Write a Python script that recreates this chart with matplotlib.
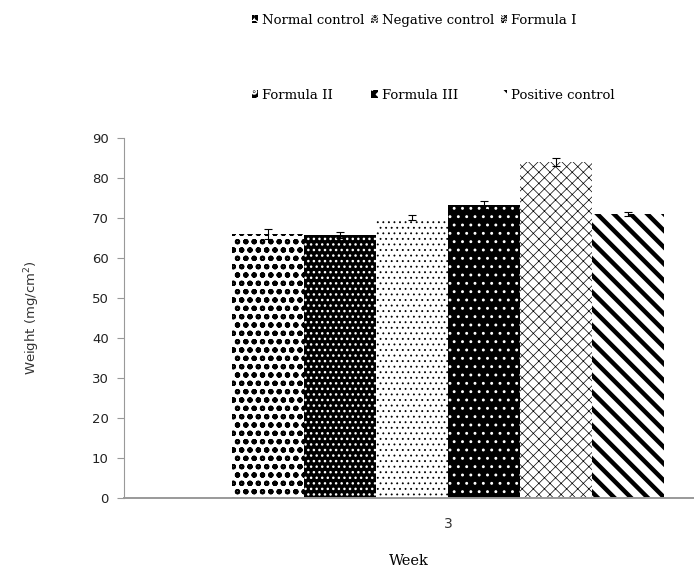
import numpy as np
import matplotlib
matplotlib.use("Agg")
import matplotlib.pyplot as plt

# data
groups = ["Normal control", "Negative control", "Formula I",
          "Formula II", "Formula III", "Positive control"]
weights = [66.0, 65.8, 70.1, 73.2, 84.1, 71.0]
errors = [1.2, 0.8, 0.6, 1.0, 1.0, 0.5]
week_label = "3"
yticks = [0, 10, 20, 30, 40, 50, 60, 70, 80, 90]

# look of each bar: face colour, hatch colour, hatch, hatch width
faces = ["white", "black", "white", "black", "white", "white"]
hatchcols = ["black", "white", "black", "white", "black", "black"]
hatches = ["oo", "...", "...", "..", "xxx", "\\\\"]
hatch_lw = [1.5, 1.0, 0.6, 0.9, 0.5, 3.2]

fig = plt.figure(figsize=(6.94, 5.76), dpi=100)
ax = fig.add_axes([124/694, 78/576, 570/694, 360/576])

w = 0.12
pos = (np.arange(len(groups)) - (len(groups) - 1) / 2) * w
handles = []
for i in range(len(groups)):
    plt.rcParams['hatch.linewidth'] = hatch_lw[i]
    b = ax.bar(pos[i], weights[i], width=w, color=faces[i],
               edgecolor=hatchcols[i], hatch=hatches[i], linewidth=0,
               label=groups[i])
    handles.append(b)
ax.errorbar(pos, weights, yerr=errors, fmt='none', ecolor='black',
            elinewidth=0.8, capsize=3, capthick=0.8)

ax.set_xlim(-0.54, 0.41)
ax.set_ylim(0, 90)
ax.set_yticks(yticks)
ax.set_xticks([0])
ax.set_xticklabels([week_label], fontsize=10, color='#333333')
ax.tick_params(axis='x', length=0, pad=14)
ax.tick_params(axis='y', length=5, color='#999999', labelsize=9.5,
               labelcolor='#222222', pad=6)
for s in ['top', 'right']:
    ax.spines[s].set_visible(False)
ax.spines['left'].set_color('#999999')
ax.spines['bottom'].set_color('#999999')
ax.spines['bottom'].set_linewidth(1.4)

ax.set_ylabel("Weight (mg/cm$^2$)", fontsize=9.5, color='#333333', labelpad=36)
ax.set_xlabel("Week", fontsize=10.5, family='DejaVu Serif', labelpad=16)

# legend fills column by column, so reorder to get 3 per row
order = [0, 3, 1, 4, 2, 5]
leg = fig.legend([handles[k] for k in order], [groups[k] for k in order],
                 ncol=3, loc='upper left', bbox_to_anchor=(240/694, 1 - 2/576),
                 frameon=False, handlelength=0.5, handleheight=0.5,
                 handletextpad=0.3, columnspacing=0.5, labelspacing=4.7,
                 prop={'family': 'DejaVu Serif', 'size': 9.5})

fig.savefig("out.png", dpi=100)
